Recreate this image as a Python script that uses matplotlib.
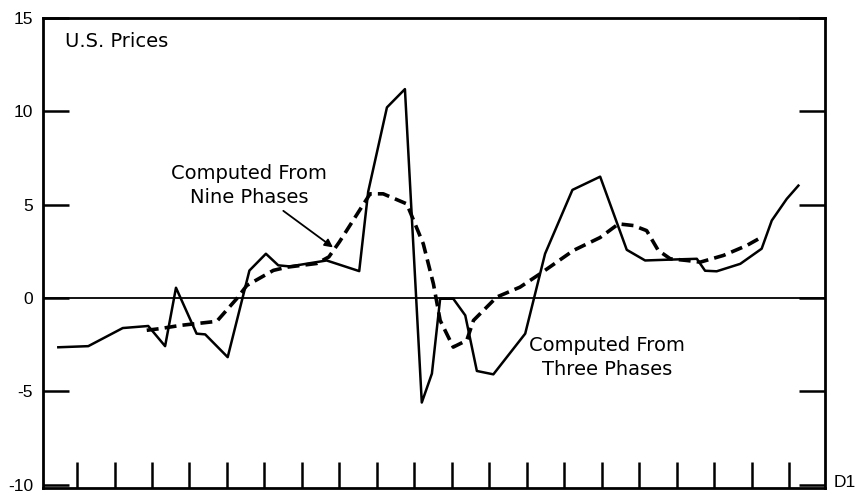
import matplotlib.pyplot as plt

# x in units of the bottom tick marks (20 ticks, 0..19), y in percent
three_x = [-0.50, 0.30, 1.22, 1.90, 2.35, 2.64, 3.19, 3.42, 4.02, 4.60, 5.04, 5.37,
           5.68, 6.66, 7.53, 7.77, 8.27, 8.75, 9.20, 9.47, 9.69, 10.04, 10.36, 10.67,
           11.11, 11.96, 12.49, 13.22, 13.96, 14.67, 15.16, 15.74, 16.54, 16.76, 17.07,
           17.70, 18.27, 18.54, 18.94, 19.25]
three_y = [-2.64, -2.58, -1.61, -1.50, -2.58, 0.55, -1.91, -1.95, -3.17, 1.47, 2.37, 1.75,
           1.69, 2.01, 1.44, 5.70, 10.21, 11.19, -5.60, -4.05, -0.04, -0.04, -0.93, -3.91,
           -4.09, -1.91, 2.37, 5.79, 6.50, 2.58, 2.01, 2.05, 2.10, 1.46, 1.43,
           1.83, 2.64, 4.15, 5.31, 6.02]

nine_x = [1.86, 2.22, 2.75, 3.73, 4.26, 4.53, 5.24, 5.60, 6.40, 6.72, 7.00, 7.82, 8.17,
          8.80, 9.24, 9.51, 9.69, 10.04, 10.40, 10.58, 11.20, 11.82, 12.36, 13.25, 13.96,
          14.45, 14.85, 15.20, 15.51, 15.83, 16.27, 16.63, 17.25, 17.87, 18.27]
nine_y = [-1.73, -1.64, -1.47, -1.25, -0.04, 0.67, 1.48, 1.65, 1.85, 2.20, 3.00, 5.58, 5.58,
          5.04, 2.90, 0.76, -1.20, -2.63, -2.27, -1.20, 0.05, 0.58, 1.30, 2.55, 3.24,
          3.97, 3.88, 3.61, 2.55, 2.10, 2.01, 1.92, 2.28, 2.81, 3.26]

y_ticks = [-10, -5, 0, 5, 10, 15]
x_ticks = list(range(20))

fig = plt.figure(figsize=(8.59, 4.94), dpi=100)
ax = fig.add_axes([0.05, 0.0121, 0.9104, 0.9515])

ax.axhline(0, color='black', lw=1.3)
ax.plot(three_x, three_y, color='black', lw=1.8)
line, = ax.plot(nine_x, nine_y, color='black', lw=2.6)
line.set_dashes([3.3, 1.7])

ax.set_xlim(-0.91, 19.96)
ax.set_ylim(-10.18, 14.95)

for s in ax.spines.values():
    s.set_linewidth(2)

ax.set_xticks(x_ticks)
ax.set_xticklabels([])
ax.tick_params(axis='x', direction='in', length=18.5, width=1.8)
ax.set_yticks(y_ticks)
ax.set_yticklabels([str(v) for v in y_ticks], fontfamily='Liberation Sans', fontsize=12.5)
ax.tick_params(axis='y', direction='in', length=18.5, width=1.8, right=True, pad=7)

ax.text(-0.32, 13.75, 'U.S. Prices', fontsize=14, ha='left', va='center')
ax.annotate('Computed From\nNine Phases', xy=(6.83, 2.71), xytext=(4.59, 6.02),
            fontsize=14, ha='center', va='center', linespacing=1.35,
            arrowprops=dict(arrowstyle='-|>', color='black', lw=1.3,
                            shrinkA=1, shrinkB=0, mutation_scale=12))
ax.text(14.14, -3.2, 'Computed From\nThree Phases', fontsize=14, ha='center',
        va='center', linespacing=1.35)
ax.text(20.18, -9.91, 'D1', fontsize=12.5, fontfamily='Liberation Sans', ha='left',
        va='center', clip_on=False)

plt.savefig('out.png', dpi=100)
